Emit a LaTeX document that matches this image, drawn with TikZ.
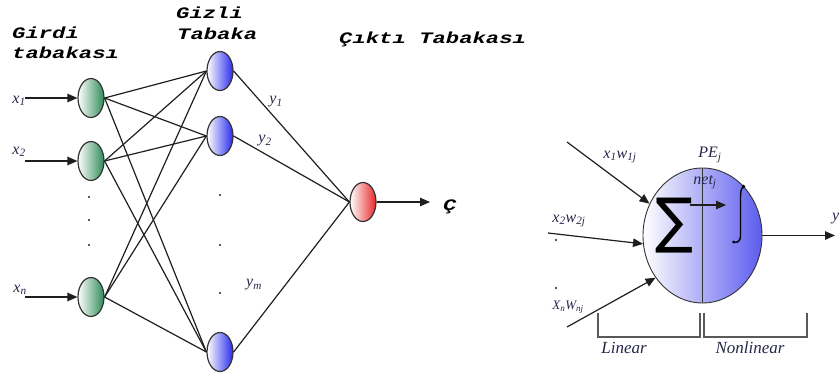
\documentclass[tikz,border=0pt]{standalone}
\usepackage{fontspec}
\usetikzlibrary{shapes.geometric,arrows.meta}
\newfontfamily\titlefont{Liberation Mono}
\newfontfamily\symfont{DejaVu Sans}
\newfontfamily\labfont{Liberation Serif}
\definecolor{lbl}{HTML}{26264A}
\definecolor{ingreen}{HTML}{2E8B57}
\definecolor{hidblue}{HTML}{2A2AEE}
\definecolor{outred}{HTML}{E82828}
\definecolor{peblue}{HTML}{5C5CEE}
\definecolor{edge}{HTML}{333333}
\definecolor{dotc}{HTML}{1A1A50}
\newcommand{\ttl}[1]{\scalebox{1.39}[1]{#1}}
\newcommand{\lsub}[1]{\textsubscript{#1}}
\begin{document}
\begin{tikzpicture}[x=1pt,y=-1pt,
  neuron/.style={ellipse, draw=edge, line width=1.2pt, minimum width=26pt, minimum height=39pt, inner sep=0pt},
  innode/.style={neuron, left color=white, right color=ingreen},
  hidnode/.style={neuron, left color=white, right color=hidblue},
  outnode/.style={neuron, left color=white, right color=outred},
  wire/.style={line width=1.2pt, draw=black!88},
  feed/.style={wire, -{Triangle[length=10pt,width=8.5pt]}},
  title/.style={font=\titlefont\bfseries\itshape\fontsize{16}{16}\selectfont, anchor=base west, inner sep=0pt},
  lab/.style={text=lbl, font=\labfont\itshape\fontsize{16}{16}\selectfont, inner sep=0pt},
  bracket/.style={draw=black!65, line width=1.3pt}
]
\useasboundingbox (0,0) rectangle (840,378);

% layer titles
\node[title] (t1) at (12,38) {\ttl{Girdi}};
\node[title] (t2) at (12,58) {\ttl{tabakası}};
\node[title] (t3) at (176,18) {\ttl{Gizli}};
\node[title] (t4) at (177,39) {\ttl{Tabaka}};
\node[title] (t5) at (339,43) {\ttl{Çıktı Tabakası}};

% network nodes
\node[innode] (i1) at (91,98) {};
\node[innode] (i2) at (91,161) {};
\node[innode] (i3) at (91,297) {};
\node[hidnode] (h1) at (220,71) {};
\node[hidnode] (h2) at (220,136) {};
\node[hidnode] (h3) at (220,352) {};
\node[outnode] (o) at (363,202) {};

% weights
\foreach \i in {i1,i2,i3}
  \foreach \h in {h1,h2,h3}
    \draw[wire] (\i.east) -- (\h.west);
\foreach \h in {h1,h2,h3}
  \draw[wire] (\h.east) -- (o.west);

% inputs and output
\coordinate (s1) at (25,98);
\coordinate (s2) at (25,161);
\coordinate (s3) at (25,297);
\coordinate (oc) at (430,202);
\draw[feed] (s1) -- (i1);
\draw[feed] (s2) -- (i2);
\draw[feed] (s3) -- (i3);
\draw[feed] (o) -- (oc);
\node[title] (c) at (443,210) {\ttl{Ç}};

\node[lab] (lx1) at (19,101) {x\lsub{1}};
\node[lab] (lx2) at (19,152) {x\lsub{2}};
\node[lab] (lxn) at (20,290) {x\lsub{n}};
\node[lab] (ly1) at (276,102) {y\lsub{1}};
\node[lab] (ly2) at (265,141) {y\lsub{2}};
\node[lab] (lym) at (254,285) {y\lsub{m}};

% ellipsis dots
\foreach \y in {197,220,245} \fill[dotc] (89,\y) circle (1.1pt);
\foreach \y in {195,245,293} \fill[dotc] (220,\y) circle (1.1pt);

% processing element
\node[ellipse, draw=edge, line width=0.9pt, minimum width=119pt, minimum height=135pt,
      inner sep=0pt, left color=white, right color=peblue] (pe) at (702.5,235.5) {};
\draw[edge, line width=0.9pt] (pe.north) -- (pe.south);
\node[inner sep=0pt] (sig) at (674,226) {\resizebox*{38pt}{55pt}{\symfont ∑}};
% activation (integral sign)
\draw[black, line width=1.4pt, line cap=round]
  (743.5,187) .. controls (741,188) and (740.5,192) .. (740.5,198)
  -- (740.5,236) .. controls (740.5,241) and (737,243.5) .. (733.5,242);
\fill (743.5,186.5) circle (1.9pt);
\fill (733.5,242) circle (1.5pt);
\coordinate (n0) at (690,205);
\coordinate (n1) at (726,205);
\draw[feed] (n0) -- (n1);
\node[lab] (lpe) at (710,155) {PE\lsub{j}};
\node[lab] (lnet) at (705,182) {net\lsub{j}};

\coordinate (w1) at (567,142);
\coordinate (w2) at (548,233);
\coordinate (w3) at (567,327);
\coordinate (yo) at (835,235.5);
\draw[feed] (w1) -- (pe.149);
\draw[feed] (w2) -- (pe.188);
\draw[feed] (w3) -- (pe.222);
\draw[feed] (pe.east) -- (yo);
\node[lab] (lw1) at (620,157) {x\lsub{1}w\lsub{1j}};
\node[lab] (lw2) at (569,221) {x\lsub{2}w\lsub{2j}};
\node[lab, font=\labfont\itshape\fontsize{13}{13}\selectfont] (lw3) at (568,307) {X\lsub{n}W\lsub{nj}};
\node[lab, anchor=west] (ly) at (832,219) {y};
\fill[dotc] (556,240) circle (1.1pt);
\fill[dotc] (556,288) circle (1.1pt);

% linear / nonlinear parts
\draw[bracket] (598,313) |- (700,337) -- (700,313);
\draw[bracket] (704,313) |- (807,337) -- (807,313);
\node[lab, font=\labfont\itshape\fontsize{17}{17}\selectfont] (llin) at (624,348) {Linear};
\node[lab, font=\labfont\itshape\fontsize{17}{17}\selectfont] (lnon) at (750,348) {Nonlinear};
\end{tikzpicture}
\end{document}
